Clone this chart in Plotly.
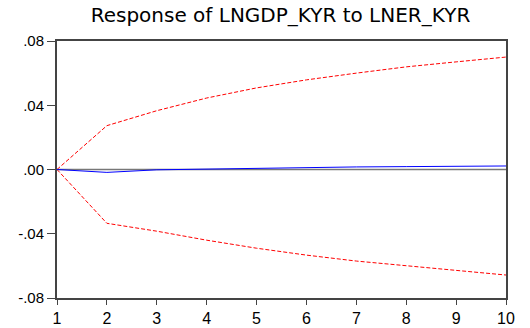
import plotly.graph_objects as go

periods = [1, 2, 3, 4, 5, 6, 7, 8, 9, 10]
response = [0.0, -0.0018, -0.0002, 0.0003, 0.0008, 0.0013, 0.0016, 0.0018, 0.0020, 0.0022]
upper = [0.0, 0.0273, 0.0366, 0.0445, 0.0508, 0.0558, 0.0600, 0.0639, 0.0670, 0.0700]
lower = [0.0, -0.0335, -0.0384, -0.0440, -0.0490, -0.0533, -0.0570, -0.0600, -0.0630, -0.0657]
y_ticks = [-0.08, -0.04, 0.0, 0.04, 0.08]
y_labels = ["-.08", "-.04", ".00", ".04", ".08"]

fig = go.Figure()
fig.add_trace(go.Scatter(x=[periods[0], periods[-1]], y=[0, 0], mode="lines",
                         line=dict(color="#777777", width=1.5), hoverinfo="skip"))
fig.add_trace(go.Scatter(x=periods, y=upper, mode="lines",
                         line=dict(color="#ff0000", width=1, dash="4px,2px")))
fig.add_trace(go.Scatter(x=periods, y=lower, mode="lines",
                         line=dict(color="#ff0000", width=1, dash="4px,2px")))
fig.add_trace(go.Scatter(x=periods, y=response, mode="lines",
                         line=dict(color="#0000ff", width=1)))

fig.update_layout(
    width=530, height=328,
    margin=dict(l=57, r=24, t=41, b=30, autoexpand=False),
    paper_bgcolor="white", plot_bgcolor="white",
    showlegend=False,
    title=dict(text="Response of LNGDP_KYR to LNER_KYR", x=280.5 / 530, xanchor="center",
               y=1 - 15 / 328, yanchor="middle",
               font=dict(family="DejaVu Sans", size=20, color="black")),
    font=dict(family="Arial, Liberation Sans", size=14, color="black"),
)
fig.update_xaxes(range=[1, 10], tickvals=periods, ticktext=[str(p) for p in periods],
                 showgrid=False, zeroline=False, showline=True, linecolor="#444444",
                 linewidth=2, mirror=True, ticks="outside", ticklen=5, tickcolor="#444444",
                 tickfont=dict(size=16), automargin=False)
fig.update_yaxes(range=[-0.08, 0.08], tickvals=y_ticks, ticktext=y_labels,
                 showgrid=False, zeroline=False, showline=True, linecolor="#444444",
                 linewidth=2, mirror=True, ticks="outside", ticklen=8, tickcolor="#444444",
                 tickfont=dict(size=15), automargin=False)

fig.write_html("out.html")
